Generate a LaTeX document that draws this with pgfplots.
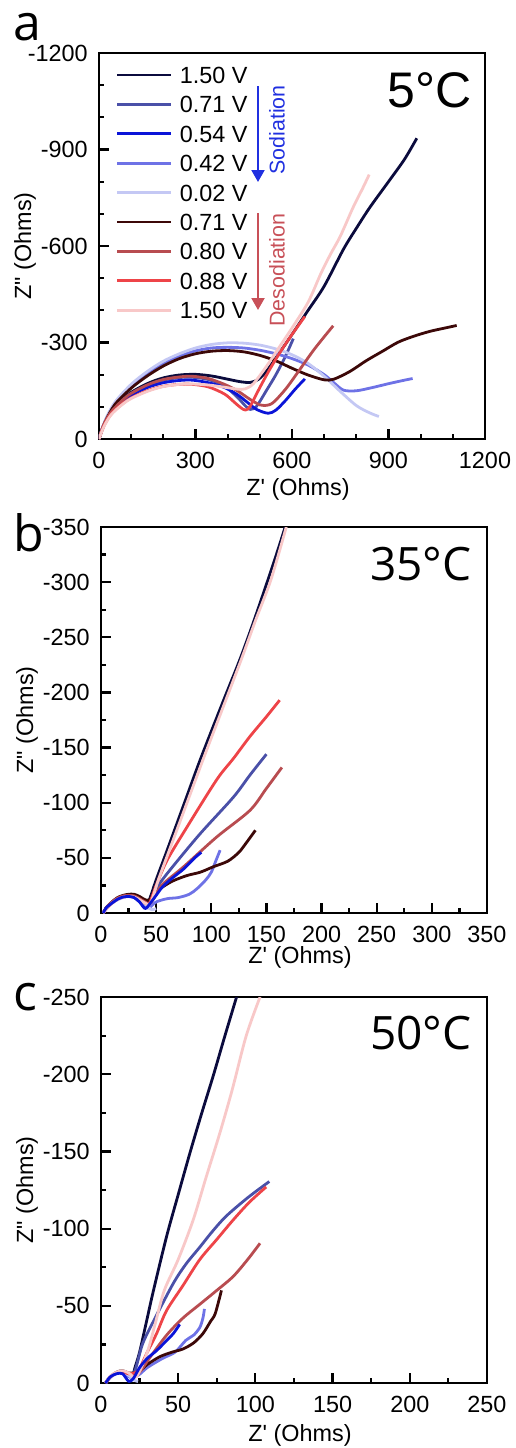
\documentclass[border=0pt]{standalone}
\usepackage{pgfplots}
\pgfplotsset{compat=1.18}
\usepackage{fontspec}
\usetikzlibrary{arrows.meta}
\newfontfamily\arial{Liberation Sans}
\newfontfamily\opensans{Open Sans}
\definecolor{cNavy}{HTML}{0B0B3D}
\definecolor{cSlate}{HTML}{4A50A8}
\definecolor{cBlue}{HTML}{0A14D8}
\definecolor{cMed}{HTML}{6E72E6}
\definecolor{cLav}{HTML}{C4C8F4}
\definecolor{cMaroon}{HTML}{3C0808}
\definecolor{cBrown}{HTML}{B84C50}
\definecolor{cRed}{HTML}{EE4448}
\definecolor{cPink}{HTML}{F8C8C8}
\definecolor{cSod}{HTML}{2030E0}
\definecolor{cDes}{HTML}{C85058}
\newcommand{\lab}{\arial\fontsize{11.7}{13}\selectfont}
\pgfplotsset{
  eis/.style={
    scale only axis, width=193pt, height=193pt,
    axis line style={line width=1.4pt},
    tick align=inside, xtick pos=left, ytick pos=left,
    major tick length=5pt, minor tick length=2.6pt,
    every tick/.style={black, line width=1.1pt},
    xticklabel style={font=\lab, anchor=base, inner sep=0pt, yshift=-14.5pt},
    yticklabel style={font=\lab, anchor=east, inner sep=0pt, xshift=-5.5pt},
    xlabel={Z' (Ohms)}, ylabel={Z" (Ohms)},
    label style={font=\lab},
    ylabel style={at={([xshift=-37pt]axis description cs:0,0.5)}, anchor=center},
    every axis plot/.append style={line width=1.4pt, smooth, tension=0.5, line join=round},
  }
}
\begin{document}
\begin{tikzpicture}
\useasboundingbox (0,0) rectangle (257.5pt,-724pt);
% ---------------- panel a ----------------
\begin{axis}[eis, at={(49.5pt,-219.5pt)}, anchor=south west,
  xmin=0, xmax=1200, ymin=0, ymax=1200,
  xtick={0,300,600,900,1200}, xticklabels={0,300,600,900,1200},
  ytick={0,300,600,900,1200}, yticklabels={0,-300,-600,-900,-1200},
  minor x tick num=2, minor y tick num=2,
  xlabel style={at={([xshift=3pt,yshift=-25pt]axis description cs:0.5,0)}, anchor=center},
  legend cell align=left,
  legend style={at={(rel axis cs:0.044,0.981)}, anchor=north west, draw=none, fill=none,
    inner sep=0pt, outer sep=0pt, row sep=0pt, font=\lab,
    nodes={inner sep=0pt, outer sep=0pt, text height=11.55pt, text depth=3.15pt}},
  legend image code/.code={\draw[#1, smooth=false] (0pt,0pt) -- (27pt,0pt); \path (30.5pt,0pt);},
]
\addplot[cNavy] coordinates {(0,0) (15,45) (40,88) (90,138) (150,172) (200,190) (250,199) (300,201) (350,196) (400,186) (440,178) (470,176) (495,185) (520,210) (550,252) (600,325) (650,400) (700,475) (760,590) (800,655) (842,720) (900,800) (950,870) (988,935)};
\addlegendentry{1.50 V}
\addplot[cSlate] coordinates {(0,0) (15,45) (40,87) (90,135) (150,167) (200,183) (250,191) (290,192) (340,185) (390,165) (430,130) (455,103) (470,92) (490,102) (520,150) (550,200) (580,258) (604,312)};
\addlegendentry{0.71 V}
\addplot[cBlue] coordinates {(0,0) (15,43) (40,84) (90,130) (150,160) (200,175) (250,182) (290,183) (340,175) (390,160) (430,138) (460,115) (490,92) (526,80) (550,90) (580,120) (610,155) (640,187)};
\addlegendentry{0.54 V}
\addplot[cMed] coordinates {(0,0) (20,58) (50,112) (100,165) (150,205) (200,236) (250,258) (300,274) (350,283) (400,285) (450,283) (500,276) (550,265) (600,250) (650,230) (700,200) (730,175) (760,152) (800,150) (850,160) (900,172) (950,183) (975,188)};
\addlegendentry{0.42 V}
\addplot[cLav] coordinates {(0,0) (20,60) (50,115) (100,170) (150,210) (200,242) (250,265) (300,283) (350,294) (400,299) (450,298) (500,292) (550,280) (600,262) (650,235) (700,195) (750,148) (800,104) (840,82) (870,70)};
\addlegendentry{0.02 V}
\addplot[cMaroon] coordinates {(0,0) (20,55) (50,108) (100,158) (150,196) (200,227) (250,250) (300,265) (350,273) (400,275) (450,271) (500,260) (550,243) (600,220) (650,199) (700,184) (730,186) (780,210) (830,243) (880,272) (930,301) (980,320) (1030,335) (1080,346) (1112,353)};
\addlegendentry{0.71 V}
\addplot[cBrown] coordinates {(0,0) (15,45) (40,87) (90,135) (150,168) (200,185) (250,193) (290,195) (340,188) (390,170) (430,150) (470,123) (500,106) (515,104) (540,112) (580,155) (620,210) (670,280) (728,352)};
\addlegendentry{0.80 V}
\addplot[cRed] coordinates {(0,0) (15,40) (40,80) (90,122) (150,150) (200,164) (250,170) (290,170) (340,162) (390,140) (420,115) (440,98) (455,90) (470,102) (500,160) (530,215) (560,265) (600,325) (640,381)};
\addlegendentry{0.88 V}
\addplot[cPink] coordinates {(0,0) (15,38) (40,78) (90,120) (150,148) (200,163) (250,170) (290,171) (340,168) (390,161) (430,155) (455,156) (480,172) (520,225) (560,285) (600,345) (650,425) (690,515) (720,575) (750,630) (790,720) (820,780) (840,822)};
\addlegendentry{1.50 V}
\end{axis}
% ---------------- panel b ----------------
\begin{axis}[eis, at={(50.5pt,-456.5pt)}, anchor=south west,
  xmin=0, xmax=350, ymin=0, ymax=350,
  xtick={0,50,...,350}, xticklabels={0,50,100,150,200,250,300,350},
  ytick={0,50,...,350}, yticklabels={0,-50,-100,-150,-200,-250,-300,-350},
  minor x tick num=1, minor y tick num=1,
  xlabel style={at={([xshift=3pt,yshift=-22pt]axis description cs:0.5,0)}, anchor=center},
]
\addplot[cNavy] coordinates {(2,0) (5,5) (10,10) (15,13.5) (20,15.5) (25,16.5) (30,16.5) (35,14) (40,11) (43,10) (50,30) (60,57) (75,98) (90,139) (110,190) (126,230) (138,263) (150,298) (160,328) (167,350)};
\addplot[cSlate] coordinates {(2,0) (5,5) (10,10) (15,13.5) (20,15.5) (25,16) (30,15.5) (35,13) (40,9) (44,9) (52,25) (65,42) (90,72) (120,105) (135,125) (150,144)};
\addplot[cMed] coordinates {(2,0) (5,5) (10,9) (15,12.5) (20,14.5) (25,15) (30,14) (35,10) (40,5) (44,5) (50,10) (60,13) (70,14) (80,17) (87,22) (95,30) (100,37) (104,47) (108,57)};
\addplot[cLav] coordinates {(2,0) (10,9) (20,14) (30,15) (38,11) (42,6) (46,3) (50,4)};
\addplot[cMaroon] coordinates {(2,0) (5,5) (10,10) (15,14) (20,16) (25,17) (30,17) (35,15) (40,12) (44,12) (48,17) (55,23) (65,29) (78,34) (90,37) (102,42) (115,47) (125,55) (132,64) (140,75)};
\addplot[cBrown] coordinates {(2,0) (5,5) (10,10) (15,13.5) (20,15.5) (25,16) (30,15.5) (35,13) (40,10) (45,9) (55,25) (75,42) (105,69) (135,93) (150,113) (164,132)};
\addplot[cRed] coordinates {(2,0) (5,4) (10,9) (15,12.5) (20,14.5) (25,15) (30,14.5) (35,12) (40,9) (44,9) (50,25) (60,48) (78,78) (105,121) (120,140) (135,160) (150,178) (162,193)};
\addplot[cPink] coordinates {(2,0) (5,4) (10,9) (15,12.5) (20,14.5) (25,15) (30,14.5) (35,12) (40,9) (45,9) (52,30) (62,57) (78,100) (94,143) (112,190) (128,232) (140,265) (154,302) (168,350)};
\addplot[cBlue] coordinates {(2,0) (5,5) (10,9) (15,12.5) (20,14.5) (25,15) (30,14) (35,10) (40,4) (44,8) (50,16) (56,24) (65,32) (75,40) (85,50) (91,55)};
\end{axis}
% ---------------- panel c ----------------
\begin{axis}[eis, at={(50.5pt,-691.5pt)}, anchor=south west,
  xmin=0, xmax=250, ymin=0, ymax=250,
  xtick={0,50,...,250}, xticklabels={0,50,100,150,200,250},
  ytick={0,50,...,250}, yticklabels={0,-50,-100,-150,-200,-250},
  minor x tick num=1, minor y tick num=1,
  xlabel style={at={([xshift=3pt,yshift=-26pt]axis description cs:0.5,0)}, anchor=center},
]
\addplot[cNavy] coordinates {(3,0) (6,4) (10,6.5) (14,7.5) (18,6) (20,3) (22,10) (25,20) (29.5,40) (34,60) (42.5,95) (50,122) (57.6,149) (65,174) (72.7,199) (80,224) (87.8,250)};
\addplot[cSlate] coordinates {(3,0) (6,4) (10,6.5) (14,7) (18,5) (22,8) (27,25.5) (35,42) (46.8,64.5) (55,77) (64,88) (72,98) (81,108) (95,120) (109,130.5)};
\addplot[cMed] coordinates {(3,0) (6,4) (10,6) (14,6.5) (18,4) (24,5) (30,10) (40,16) (48,20) (55,27.7) (60,31) (64,36) (66,42) (67,48)};
\addplot[cLav] coordinates {(3,0) (8,5) (13,7) (18,5) (21,2) (24,1)};
\addplot[cMaroon] coordinates {(3,0) (6,4) (10,7) (14,8) (18,6.5) (24,7) (30,12) (38,17) (46,20) (53,22) (60,26) (66,32) (71,40) (74,45) (78,60)};
\addplot[cBrown] coordinates {(3,0) (6,4) (10,6.5) (14,7.5) (18,6) (24,6) (32,17) (42.5,31) (53,42) (64,51) (75,60) (85.6,69) (95,80) (103,90.5)};
\addplot[cRed] coordinates {(3,0) (6,4) (10,6.5) (14,7.5) (18,6) (24,8) (30,20) (36,32) (42.5,47) (53,63) (64,80) (75,93) (85.6,105.6) (96,117) (107,127)};
\addplot[cPink] coordinates {(3,0) (6,4.5) (10,7) (14,8) (18,6.5) (23,4) (30,20) (35,38) (41,60) (50,80) (59.7,105.6) (68,133) (77,162) (85,190) (94,224.7) (103,250)};
\addplot[cBlue] coordinates {(3,0) (6,4) (10,6) (14,6) (18,1) (21,3) (25,10) (30,16) (36,21) (42,27) (46.8,32) (51,38)};
\end{axis}
% ---------------- annotations ----------------
\node[anchor=base west, inner sep=0pt, font=\opensans\fontsize{25}{25}\selectfont] at (6.5pt,-20pt) {a};
\node[anchor=base west, inner sep=0pt, font=\opensans\fontsize{25}{25}\selectfont] at (6.5pt,-275.5pt) {b};
\node[anchor=base west, inner sep=0pt, font=\opensans\fontsize{25}{25}\selectfont] at (6.5pt,-505pt) {c};
\node[anchor=base east, inner sep=0pt, font=\arial\fontsize{25}{25}\selectfont] at (236pt,-53.5pt) {5°C};
\node[anchor=base east, inner sep=0pt, font=\opensans\fontsize{23}{23}\selectfont] at (236pt,-290pt) {35°C};
\node[anchor=base east, inner sep=0pt, font=\opensans\fontsize{23}{23}\selectfont] at (236pt,-524.7pt) {50°C};
\draw[cSod, line width=1pt, -{Triangle[width=6.5pt,length=6pt]}] (129pt,-43pt) -- (129pt,-91pt);
\node[cSod, rotate=90, inner sep=0pt, font=\arial\fontsize{10.7}{11}\selectfont] at (138.5pt,-65pt) {Sodiation};
\draw[cDes, line width=1pt, -{Triangle[width=6.5pt,length=6pt]}] (129pt,-106.5pt) -- (129pt,-155pt);
\node[cDes, rotate=90, inner sep=0pt, font=\arial\fontsize{10.7}{11}\selectfont] at (138.5pt,-135pt) {Desodiation};
\end{tikzpicture}
\end{document}
